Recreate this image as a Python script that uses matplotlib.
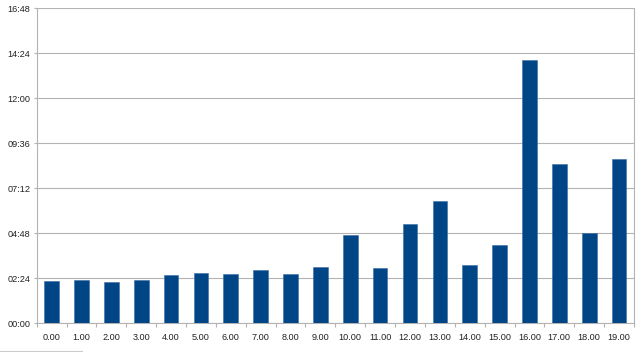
import matplotlib
matplotlib.use('Agg')
import matplotlib.pyplot as plt
import matplotlib.lines as mlines
from matplotlib.ticker import FuncFormatter, MultipleLocator, FixedLocator

# hour of day vs duration (seconds)
hours = [0, 1, 2, 3, 4, 5, 6, 7, 8, 9, 10, 11, 12, 13, 14, 15, 16, 17, 18, 19]
seconds = [135, 137, 133, 137, 154, 162, 157, 171, 157, 180,
           282, 176, 318, 390, 187, 250, 843, 511, 289, 527]

plt.rcParams['font.family'] = ['Liberation Sans', 'DejaVu Sans']

fig = plt.figure(figsize=(6.4, 3.52), dpi=100)
ax = fig.add_axes([0.0573, 0.0815, 0.9333, 0.8949])

ax.bar(hours, seconds, width=0.49, color='#004586', edgecolor='#3a6ea5',
       linewidth=0.4, zorder=3)

def mmss(v, pos):
    v = int(round(v))
    return '%02d:%02d' % (v // 60, v % 60)

ax.set_ylim(0, 1008)
ax.yaxis.set_major_locator(MultipleLocator(144))
ax.yaxis.set_major_formatter(FuncFormatter(mmss))
ax.set_xlim(-0.5, len(hours) - 0.5)
ax.set_xticks(hours)
ax.set_xticklabels(['%.2f' % h for h in hours])
ax.xaxis.set_minor_locator(FixedLocator([h - 0.5 for h in hours] + [hours[-1] + 0.5]))

ax.grid(axis='y', color='#b3b3b3', linewidth=0.8, zorder=0)
for s in ['left', 'bottom', 'right']:
    ax.spines[s].set_color('#b3b3b3')
    ax.spines[s].set_linewidth(0.8)
ax.spines['top'].set_visible(False)

ax.tick_params(axis='x', which='major', length=0, pad=7, labelsize=6.6, labelcolor='#222222')
ax.tick_params(axis='x', which='minor', length=3, width=0.8, color='#b3b3b3')
ax.tick_params(axis='y', length=2.5, width=0.8, color='#b3b3b3', pad=2,
               labelsize=6.6, labelcolor='#222222')

# stray frame fragment at bottom-left
fig.add_artist(mlines.Line2D([0.0, 0.128], [0.003, 0.003], color='#cccccc', linewidth=0.8))

fig.savefig('out.png', dpi=100)
